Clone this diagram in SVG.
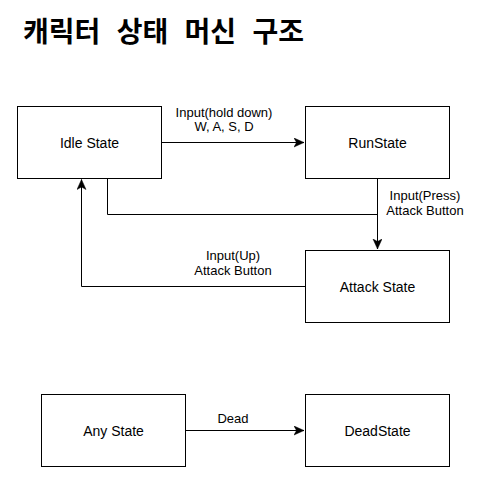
<svg xmlns="http://www.w3.org/2000/svg" width="493" height="496" viewBox="0 0 493 496">
<style>
.box{fill:#fff;stroke:#000;stroke-width:1}
.nt{font-family:"Liberation Sans",Arial,sans-serif;font-size:14px;fill:#000;text-anchor:middle}
.et{font-family:"Liberation Sans",Arial,sans-serif;font-size:13px;fill:#000;text-anchor:middle}
.edge{fill:none;stroke:#000;stroke-width:1}
.title{font-family:"Noto Sans CJK KR","Noto Sans",sans-serif;font-size:28px;font-weight:bold;fill:#000;word-spacing:10px}
</style>
<defs>
<marker id="arr" markerUnits="userSpaceOnUse" markerWidth="11" markerHeight="10" refX="10" refY="4.5" orient="auto">
<path d="M0,0 L10,4.5 L0,9 L2.5,4.5 Z" fill="#000" stroke="#000" stroke-width="0.5"/>
</marker>
</defs>
<rect width="493" height="496" fill="#fff"/>
<text class="title" x="23" y="42">캐릭터 상태 머신 구조</text>
<g id="connectors">
<path class="edge" d="M161.5,142.5 H304" marker-end="url(#arr)"/>
<path class="edge" d="M377.5,178.5 V249" marker-end="url(#arr)"/>
<path class="edge" d="M107.5,178.5 V214.5 H377.5 V249"/>
<path class="edge" d="M305.5,286.5 H81.5 V179.5" marker-end="url(#arr)"/>
<path class="edge" d="M185.5,430.5 H304" marker-end="url(#arr)"/>
<text class="et" x="224" y="117">Input(hold down)</text>
<text class="et" x="224" y="131">W, A, S, D</text>
<text class="et" x="425" y="200">Input(Press)</text>
<text class="et" x="425" y="215">Attack Button</text>
<text class="et" x="233" y="260">Input(Up)</text>
<text class="et" x="233" y="275">Attack Button</text>
<text class="et" x="233" y="423">Dead</text>
</g>
<g id="idle"><rect class="box" x="17.5" y="106.5" width="144" height="72"/><text class="nt" x="89.5" y="148">Idle State</text></g>
<g id="run"><rect class="box" x="305.5" y="106.5" width="144" height="72"/><text class="nt" x="377.5" y="148">RunState</text></g>
<g id="attack"><rect class="box" x="305.5" y="250.5" width="144" height="72"/><text class="nt" x="377.5" y="292">Attack State</text></g>
<g id="any"><rect class="box" x="41.5" y="394.5" width="144" height="72"/><text class="nt" x="113.5" y="436">Any State</text></g>
<g id="dead"><rect class="box" x="305.5" y="394.5" width="144" height="72"/><text class="nt" x="377.5" y="436">DeadState</text></g>
</svg>
